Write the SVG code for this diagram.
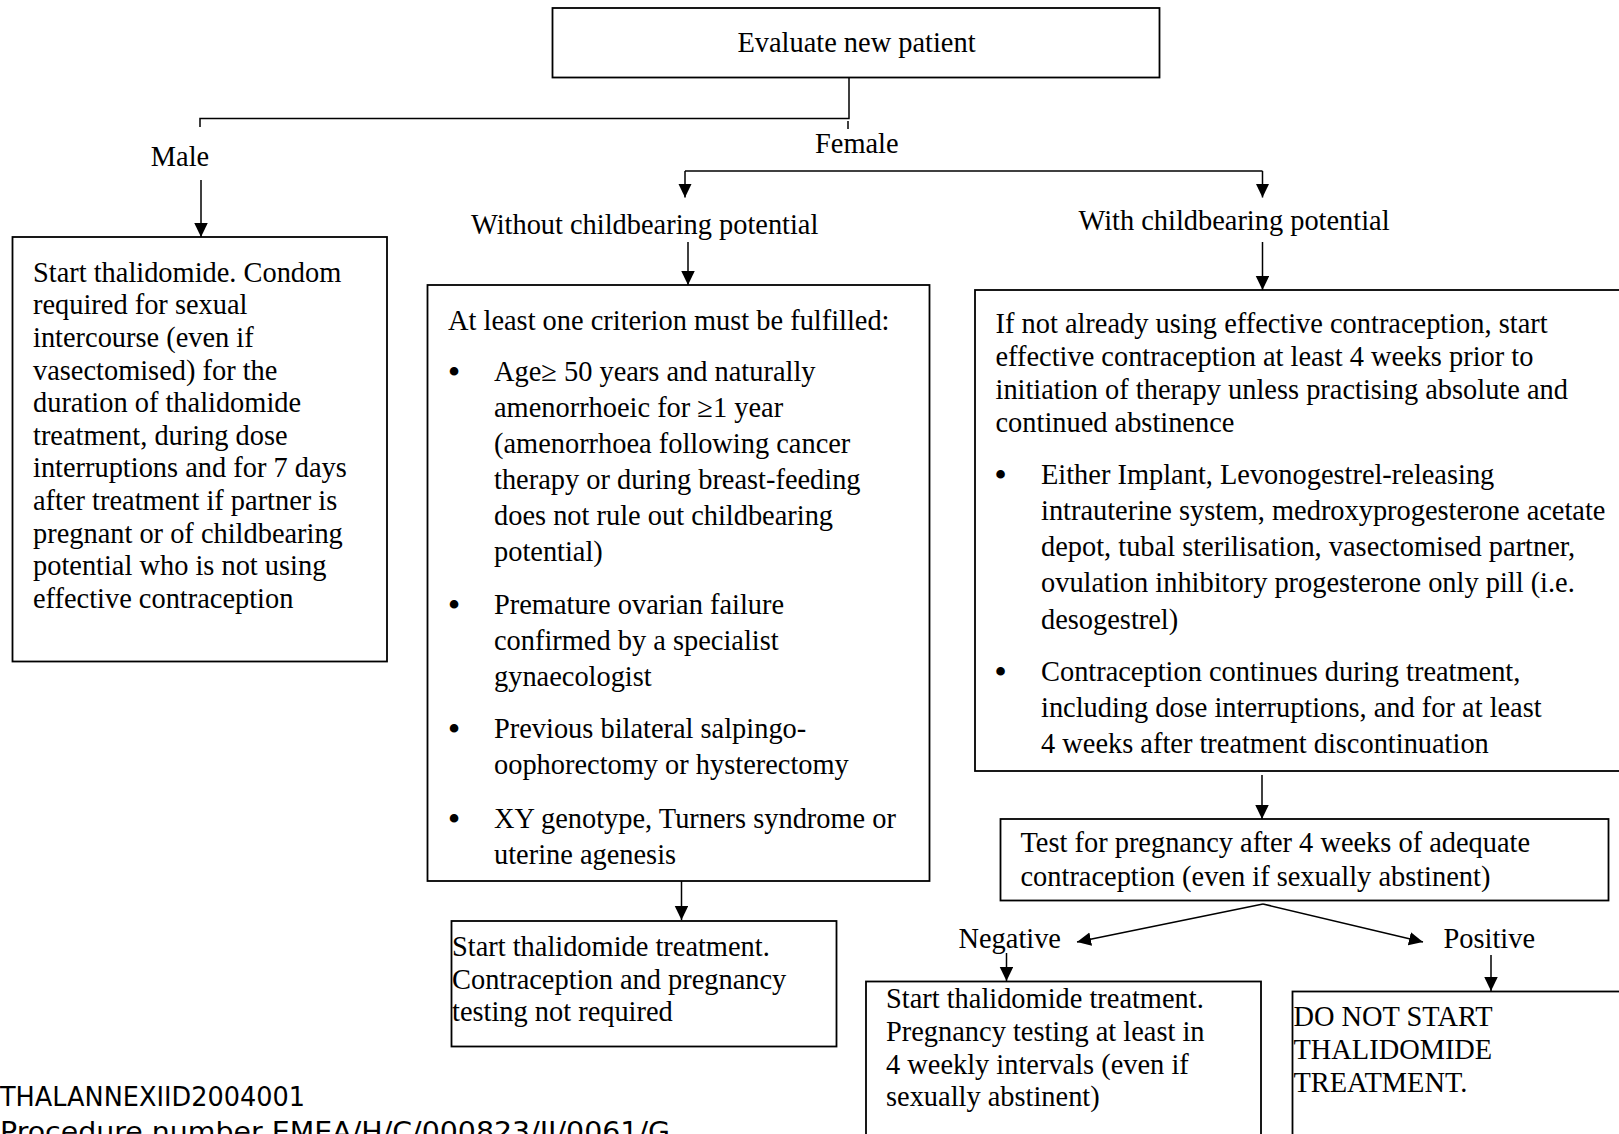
<svg xmlns="http://www.w3.org/2000/svg" width="1619" height="1134" viewBox="0 0 1619 1134">
<style>
.box{fill:#fff;stroke:#000;stroke-width:1.8}
.ln{fill:none;stroke:#000;stroke-width:1.5}
.arr{marker-end:url(#ah)}
text{font-family:"Liberation Serif","Times New Roman",serif;font-size:28.4px;fill:#000}
text.bul{font-size:36px;text-anchor:middle}
.foot{font-family:"DejaVu Sans","Liberation Sans",sans-serif;font-size:27px}
</style>
<defs>
<marker id="ah" markerUnits="userSpaceOnUse" markerWidth="15" markerHeight="14" refX="14" refY="6.75" orient="auto" viewBox="0 0 15 14">
<path d="M0,0 L14,6.75 L0,13.5 z" fill="#000"/>
</marker>
</defs>
<rect width="1619" height="1134" fill="#fff"/>

<g id="connectors">
<path class="ln" d="M849,77 V118.5 H200 V127"/>
<path class="ln" d="M848,121 V129"/>
<path class="ln arr" d="M201,180 V237"/>
<path class="ln" d="M685,171 H1262.5"/>
<path class="ln arr" d="M685,171 V197.5"/>
<path class="ln arr" d="M1262.5,171 V197.5"/>
<path class="ln arr" d="M688,242 V285"/>
<path class="ln arr" d="M1262.5,242 V290"/>
<path class="ln arr" d="M681.5,881 V920"/>
<path class="ln arr" d="M1262,775 V819"/>
<path class="ln arr" d="M1263,904 L1077,942"/>
<path class="ln arr" d="M1263,904 L1423,942"/>
<path class="ln arr" d="M1006.5,953 V981"/>
<path class="ln arr" d="M1491,955 V991"/>
</g>

<g id="labels">
<text x="180" y="166" text-anchor="middle">Male</text>
<text x="815" y="153.3">Female</text>
<text x="471" y="234">Without childbearing potential</text>
<text x="1078.5" y="229.5">With childbearing potential</text>
<text x="958.5" y="947.5">Negative</text>
<text x="1443.5" y="947.5">Positive</text>
</g>

<g id="evaluate">
<rect class="box" x="552.5" y="8" width="607" height="69.5"/>
<text x="856.5" y="52" text-anchor="middle">Evaluate new patient</text>
</g>

<g id="male-box">
<rect class="box" x="12.5" y="237" width="374.5" height="424.5"/>
<text x="33" y="281.7">Start thalidomide. Condom</text>
<text x="33" y="314.3">required for sexual</text>
<text x="33" y="346.9">intercourse (even if</text>
<text x="33" y="379.5">vasectomised) for the</text>
<text x="33" y="412.1">duration of thalidomide</text>
<text x="33" y="444.7">treatment, during dose</text>
<text x="33" y="477.3">interruptions and for 7 days</text>
<text x="33" y="509.9">after treatment if partner is</text>
<text x="33" y="542.5">pregnant or of childbearing</text>
<text x="33" y="575.1">potential who is not using</text>
<text x="33" y="607.7">effective contraception</text>
</g>

<g id="criteria-box">
<rect class="box" x="427.5" y="285" width="502" height="596"/>
<text x="448" y="329.6">At least one criterion must be fulfilled:</text>
<text class="bul" x="454" y="384">•</text>
<text x="494" y="381">Age≥ 50 years and naturally</text>
<text x="494" y="417">amenorrhoeic for ≥1 year</text>
<text x="494" y="453">(amenorrhoea following cancer</text>
<text x="494" y="489">therapy or during breast-feeding</text>
<text x="494" y="525">does not rule out childbearing</text>
<text x="494" y="561">potential)</text>
<text class="bul" x="454" y="617">•</text>
<text x="494" y="614">Premature ovarian failure</text>
<text x="494" y="650">confirmed by a specialist</text>
<text x="494" y="686">gynaecologist</text>
<text class="bul" x="454" y="741">•</text>
<text x="494" y="738">Previous bilateral salpingo-</text>
<text x="494" y="774">oophorectomy or hysterectomy</text>
<text class="bul" x="454" y="831">•</text>
<text x="494" y="828">XY genotype, Turners syndrome or</text>
<text x="494" y="864">uterine agenesis</text>
</g>

<g id="no-test-box">
<rect class="box" x="451.5" y="921" width="385" height="125.5"/>
<text x="452" y="956">Start thalidomide treatment.</text>
<text x="452" y="989">Contraception and pregnancy</text>
<text x="452" y="1021">testing not required</text>
</g>

<g id="contraception-box">
<rect class="box" x="975" y="290" width="660" height="481"/>
<text x="995.5" y="333">If not already using effective contraception, start</text>
<text x="995.5" y="366">effective contraception at least 4 weeks prior to</text>
<text x="995.5" y="399">initiation of therapy unless practising absolute and</text>
<text x="995.5" y="431.5">continued abstinence</text>
<text class="bul" x="1000.5" y="487">•</text>
<text x="1041" y="484">Either Implant, Levonogestrel-releasing</text>
<text x="1041" y="520">intrauterine system, medroxyprogesterone acetate</text>
<text x="1041" y="556">depot, tubal sterilisation, vasectomised partner,</text>
<text x="1041" y="592">ovulation inhibitory progesterone only pill (i.e.</text>
<text x="1041" y="628.5">desogestrel)</text>
<text class="bul" x="1000.5" y="684">•</text>
<text x="1041" y="681">Contraception continues during treatment,</text>
<text x="1041" y="717">including dose interruptions, and for at least</text>
<text x="1041" y="753">4 weeks after treatment discontinuation</text>
</g>

<g id="test-box">
<rect class="box" x="1000.5" y="819" width="608" height="81.5"/>
<text x="1020.5" y="852">Test for pregnancy after 4 weeks of adequate</text>
<text x="1020.5" y="886">contraception (even if sexually abstinent)</text>
</g>

<g id="negative-box">
<rect class="box" x="866" y="981.5" width="395" height="220"/>
<text x="886" y="1008">Start thalidomide treatment.</text>
<text x="886" y="1040.5">Pregnancy testing at least in</text>
<text x="886" y="1073.5">4 weekly intervals (even if</text>
<text x="886" y="1106">sexually abstinent)</text>
</g>

<g id="positive-box">
<rect class="box" x="1292.5" y="991.5" width="400" height="220"/>
<text x="1293.5" y="1026">DO NOT START</text>
<text x="1293.5" y="1059">THALIDOMIDE</text>
<text x="1293.5" y="1092">TREATMENT.</text>
</g>

<g id="footer">
<text class="foot" x="0" y="1106" textLength="305" lengthAdjust="spacingAndGlyphs">THALANNEXIID2004001</text>
<text class="foot" x="0" y="1141" textLength="670" lengthAdjust="spacingAndGlyphs">Procedure number EMEA/H/C/000823/II/0061/G</text>
</g>
</svg>
